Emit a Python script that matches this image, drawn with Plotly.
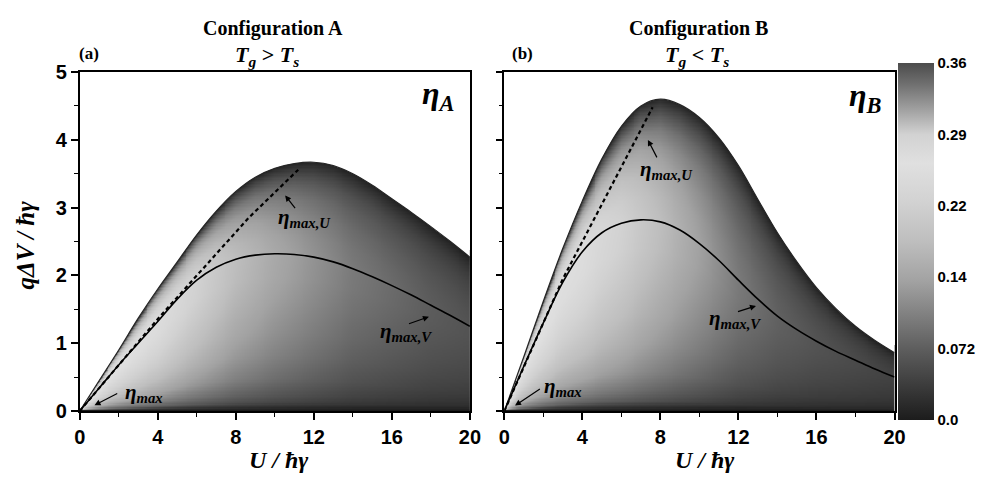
import numpy as np
import plotly.graph_objects as go

W, H = 992, 485
SERIF = "Liberation Serif"
SANS = "Liberation Sans"

# Gate-voltage samples U / ħγ
U_NODES = [0, 1, 2, 3, 4, 5, 6, 7, 8, 9, 10, 11, 12, 13, 14, 15, 16, 17, 18, 19, 20]

# Configuration A (T_g > T_s): edge of the positive-efficiency region and the η_max,V curve
BOUND_A = [0, 0.45, 0.9, 1.37, 1.8, 2.2, 2.6, 2.95, 3.24, 3.45, 3.58, 3.65, 3.67,
           3.62, 3.5, 3.33, 3.13, 2.93, 2.72, 2.5, 2.27]
OPT_A = [0, 0.34, 0.68, 1.0, 1.32, 1.65, 1.93, 2.12, 2.24, 2.3, 2.32, 2.31, 2.27,
         2.2, 2.1, 1.98, 1.85, 1.71, 1.56, 1.41, 1.25]
DASH_A_U = [0, 4.1, 8.66, 11.2]
DASH_A_V = [0, 1.39, 2.85, 3.56]

# Configuration B (T_g < T_s)
BOUND_B = [0, 0.8, 1.62, 2.4, 3.1, 3.72, 4.2, 4.5, 4.6, 4.52, 4.33, 4.03, 3.62,
           3.12, 2.63, 2.2, 1.82, 1.51, 1.25, 1.04, 0.86]
OPT_B = [0, 0.66, 1.3, 1.9, 2.35, 2.63, 2.77, 2.82, 2.79, 2.67, 2.47, 2.22, 1.93,
         1.65, 1.4, 1.2, 1.03, 0.88, 0.75, 0.62, 0.5]
DASH_B_U = [0, 3.0, 7.6]
DASH_B_V = [0, 1.95, 4.48]

# Efficiency reached on the η_max,V curve
PEAK_U = [0, 2, 4, 6, 8, 10, 12, 14, 16, 18, 20]
PEAK_A = [0.26, 0.26, 0.25, 0.22, 0.18, 0.15, 0.125, 0.1, 0.085, 0.07, 0.06]
PEAK_B = [0.26, 0.26, 0.25, 0.22, 0.18, 0.14, 0.1, 0.075, 0.06, 0.05, 0.04]

# Relative efficiency below the optimum (fraction of V_opt) and above it (fraction of gap to the edge)
RISE_FRAC = [0, 0.05, 0.1, 0.2, 0.35, 0.5, 0.7, 0.85, 1.0]
RISE_REL = [0, 0.3, 0.42, 0.58, 0.72, 0.82, 0.92, 0.98, 1.0]
FALL_FRAC = [0, 0.2, 0.4, 0.6, 0.75, 0.85, 0.93, 1.0]
FALL_REL = [1.0, 0.95, 0.86, 0.72, 0.56, 0.4, 0.24, 0.08]

X_TICKS = [0, 4, 8, 12, 16, 20]
Y_TICKS = [0, 1, 2, 3, 4, 5]
CBAR_TICKS = [0, 0.072, 0.144, 0.216, 0.288, 0.36]
CBAR_LABELS = ["0.0", "0.072", "0.14", "0.22", "0.29", "0.36"]

GRAY_SCALE = [
    [0.0, "#1c1c1c"], [0.2, "#5e5e5e"], [0.389, "#a2a2a2"], [0.5, "#bebebe"],
    [0.61, "#d2d2d2"], [0.72, "#e0e0e0"], [0.8, "#d2d2d2"], [0.87, "#a0a0a0"],
    [0.94, "#707070"], [1.0, "#4c4c4c"],
]


def efficiency_map(bound, opt, peak):
    u = np.linspace(0, 20, 401)
    v = np.linspace(0, 5, 251)
    uu, vv = np.meshgrid(u, v)
    vb = np.interp(uu, U_NODES, bound)
    vo = np.interp(uu, U_NODES, opt)
    pk = np.interp(uu, PEAK_U, peak)
    with np.errstate(divide="ignore", invalid="ignore"):
        lo = np.interp(np.nan_to_num(vv / vo, nan=0.0, posinf=1.0), RISE_FRAC, RISE_REL)
        hi = np.interp(np.nan_to_num((vv - vo) / (vb - vo), nan=1.0, posinf=1.0),
                       FALL_FRAC, FALL_REL)
    rel = np.where(vv <= vo, lo, hi)
    # run slightly past the edge; the white cover above the edge trims it smoothly
    z = np.where((vv <= vb + 0.1) & (uu > 0), pk * rel, np.nan)
    return u, v, np.round(z, 4)


def px_x(x):
    return x / W


def px_y(y):
    return 1 - y / H


fig = go.Figure()

for bound, opt, peak, du, dv, xa, ya in [
    (BOUND_A, OPT_A, PEAK_A, DASH_A_U, DASH_A_V, "x", "y"),
    (BOUND_B, OPT_B, PEAK_B, DASH_B_U, DASH_B_V, "x2", "y2"),
]:
    u, v, z = efficiency_map(bound, opt, peak)
    fig.add_trace(go.Heatmap(x=u, y=v, z=z, coloraxis="coloraxis",
                             xaxis=xa, yaxis=ya, hoverinfo="skip"))
    # white cover over the region beyond the edge
    fig.add_trace(go.Scatter(x=U_NODES, y=bound, mode="lines", xaxis=xa, yaxis=ya,
                             line=dict(width=0, shape="spline", color="white"),
                             hoverinfo="skip"))
    fig.add_trace(go.Scatter(x=[0, 20], y=[5.5, 5.5], mode="lines", xaxis=xa, yaxis=ya,
                             line=dict(width=0, color="white"), fill="tonexty",
                             fillcolor="white", hoverinfo="skip"))
    fig.add_trace(go.Scatter(x=U_NODES, y=bound, mode="lines", xaxis=xa, yaxis=ya,
                             line=dict(color="#262626", width=1.2, shape="spline"),
                             hoverinfo="skip"))
    fig.add_trace(go.Scatter(x=U_NODES, y=opt, mode="lines", xaxis=xa, yaxis=ya,
                             line=dict(color="black", width=1.6, shape="spline"),
                             hoverinfo="skip"))
    fig.add_trace(go.Scatter(x=du, y=dv, mode="lines", xaxis=xa, yaxis=ya,
                             line=dict(color="black", width=2.2, dash="4px,3px"),
                             hoverinfo="skip"))

axis_common = dict(
    showgrid=False, zeroline=False, showline=True, linecolor="black", linewidth=1.5,
    mirror=True, ticks="outside", ticklen=7, tickwidth=1.5, tickcolor="black",
    tickfont=dict(family=SANS, size=20, color="black", weight="bold"),
)
x_common = dict(axis_common, range=[0, 20], tickvals=X_TICKS,
                minor=dict(dtick=2, tick0=0, ticks="outside", ticklen=4, tickwidth=1.2,
                           tickcolor="black"))
y_common = dict(axis_common, range=[0, 5], tickvals=Y_TICKS,
                minor=dict(dtick=0.5, tick0=0, ticks="outside", ticklen=4, tickwidth=1.2,
                           tickcolor="black"))

y_dom = [px_y(419), px_y(64)]
fig.update_layout(
    width=W, height=H, margin=dict(l=0, r=0, t=0, b=0),
    paper_bgcolor="white", plot_bgcolor="white", showlegend=False,
    xaxis=dict(x_common, domain=[px_x(75), px_x(472)], anchor="y"),
    yaxis=dict(y_common, domain=y_dom, anchor="x"),
    xaxis2=dict(x_common, domain=[px_x(507), px_x(904)], anchor="y2"),
    yaxis2=dict(y_common, domain=y_dom, anchor="x2", showticklabels=False),
    coloraxis=dict(
        colorscale=GRAY_SCALE, cmin=0, cmax=0.36,
        colorbar=dict(
            x=px_x(908), xanchor="left", xpad=0, ypad=0,
            y=px_y(241.5), yanchor="middle",
            thickness=36, thicknessmode="pixels", len=357, lenmode="pixels",
            outlinewidth=0, ticks="", tickvals=CBAR_TICKS, ticktext=CBAR_LABELS,
            tickfont=dict(family=SANS, size=15, color="black", weight="bold"),
        ),
    ),
)

ann = []


def text_paper(x, y, text, size, angle=0):
    ann.append(dict(x=px_x(x), y=px_y(y), xref="paper", yref="paper", text=text,
                    showarrow=False, xanchor="center", yanchor="middle", textangle=angle,
                    font=dict(family=SERIF, size=size, color="black")))


def text_data(xa, ya, x, y, text, size):
    ann.append(dict(x=x, y=y, xref=xa, yref=ya, text=text, showarrow=False,
                    xanchor="center", yanchor="middle",
                    font=dict(family=SERIF, size=size, color="black")))


def arrow(xa, ya, x0, y0, x1, y1):
    ann.append(dict(x=x1, y=y1, ax=x0, ay=y0, xref=xa, yref=ya, axref=xa, ayref=ya,
                    text="", showarrow=True, arrowhead=2, arrowsize=1, arrowwidth=1.2,
                    arrowcolor="black"))


def eta(sub):
    return f"<b><i>η</i></b><sub><b><i>{sub}</i></b></sub>"


# Panel headings
text_paper(272, 18, "<b>Configuration A</b>", 20)
text_paper(705, 18, "<b>Configuration B</b>", 20)
text_paper(266, 47, "<b><i>T</i></b><sub><b><i>g</i></b></sub><b> &gt; </b>"
                    "<b><i>T</i></b><sub><b><i>s</i></b></sub>", 22)
text_paper(703, 47, "<b><i>T</i></b><sub><b><i>g</i></b></sub><b> &lt; </b>"
                    "<b><i>T</i></b><sub><b><i>s</i></b></sub>", 22)
text_paper(84, 45, "<b>(a)</b>", 17)
text_paper(525, 45, "<b>(b)</b>", 17)

# Axis titles
text_paper(277, 470, "<b><i>U / ħγ</i></b>", 24)
text_paper(711, 470, "<b><i>U / ħγ</i></b>", 24)
text_paper(20, 245, "<b><i>qΔV / ħγ</i></b>", 25, angle=-90)

# Labels inside the maps
text_data("x", "y", 18.4, 4.66, eta("A"), 32)
text_data("x2", "y2", 18.5, 4.63, eta("B"), 32)

text_data("x", "y", 3.3, 0.27, eta("max"), 21)
arrow("x", "y", 2.0, 0.27, 0.76, 0.085)
text_data("x2", "y2", 3.0, 0.35, eta("max"), 21)
arrow("x2", "y2", 1.9, 0.34, 0.55, 0.08)

text_data("x", "y", 11.5, 2.85, eta("max,U"), 21)
arrow("x", "y", 11.1, 2.97, 10.53, 3.18)
text_data("x2", "y2", 8.3, 3.56, eta("max,U"), 21)
arrow("x2", "y2", 7.86, 3.72, 7.36, 4.0)

text_data("x", "y", 16.7, 1.17, eta("max,V"), 21)
arrow("x", "y", 16.8, 1.28, 17.9, 1.39)
text_data("x2", "y2", 11.8, 1.35, eta("max,V"), 21)
arrow("x2", "y2", 11.9, 1.46, 12.9, 1.55)

fig.update_layout(annotations=ann)

fig.write_html("out.html")
